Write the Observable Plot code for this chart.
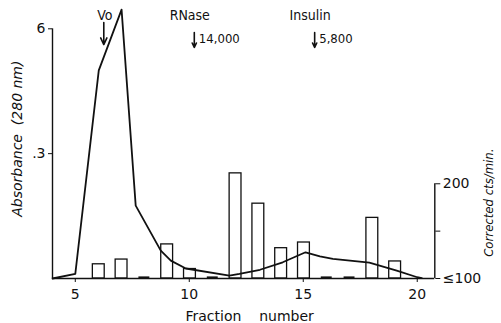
<!DOCTYPE html>
<html>
<head>
<meta charset="utf-8">
<script src="https://cdn.jsdelivr.net/npm/d3@7"></script>
<script src="https://cdn.jsdelivr.net/npm/@observablehq/plot@0.6"></script>
<style>
  html, body { margin: 0; padding: 0; background: #fff; }
  svg { overflow: visible; }
</style>
</head>
<body>
<div id="chart"></div>
<script>
// Absorbance (280 nm) profile
const lineFraction = [4, 5, 6.03, 7.03, 7.65, 8.75, 9.19, 9.85, 11.76, 12.2, 13.1, 14.1, 15.1, 15.73, 16.3, 17.05, 17.9, 19.1, 20.0, 20.2];
const lineAbs      = [0, 0.011, 0.50, 0.646, 0.175, 0.067, 0.043, 0.024, 0.007, 0.011, 0.021, 0.039, 0.063, 0.053, 0.047, 0.043, 0.038, 0.019, 0.003, 0.001];

// Corrected cts/min (bars), <=100 drawn as baseline dashes
const barFraction = [6, 7, 8, 9, 10, 11, 12, 13, 14, 15, 16, 17, 18, 19];
const barCounts   = [115, 120, 100, 136, 110, 100, 211, 179, 132, 138, 100, 100, 164, 118];

// Marker annotations
const markerName = ["Vo", "RNase", "Insulin"];
const markerMW   = ["", "14,000", "5,800"];
const markerFraction = [6.25, 10.22, 15.5];

const xTicks = [5, 10, 15, 20];
const leftTicks = [0.3, 0.6];
const leftTickLabels = [".3", "6"];
const rightTicks = [100, 150, 200];
const rightTickLabels = ["≤100", "", "200"];

const xMin = 4, xMax = 20.77;
// map counts onto the absorbance axis (100 at baseline, 200 at ~0.2276)
const countToY = c => (c - 100) * 0.002276;

const lineData = lineFraction.map((f, i) => ({f, a: lineAbs[i]}));
const bars = barFraction.map((f, i) => ({f, c: barCounts[i]}));
const markers = markerName.map((n, i) => ({name: n, mw: markerMW[i], f: markerFraction[i]}));

const font = "'DejaVu Sans', sans-serif";
const narrow = "'Liberation Sans Narrow', 'DejaVu Sans Condensed', sans-serif";

const chart = Plot.plot({
  width: 501,
  height: 323,
  marginLeft: 52,
  marginRight: 66.7,
  marginTop: 28.3,
  marginBottom: 45,
  style: {fontFamily: font, fontSize: "14px", color: "#111", background: "#fff"},
  x: {domain: [xMin, xMax]},
  y: {domain: [0, 0.6]},
  marks: [
    // bars
    Plot.rectY(bars.filter(d => d.c > 100), {
      x1: d => d.f + 0.03 - 0.26, x2: d => d.f + 0.03 + 0.26,
      y1: 0, y2: d => countToY(d.c),
      fill: "white", stroke: "#111", strokeWidth: 1.3
    }),
    Plot.ruleY(bars.filter(d => d.c <= 100), {
      x1: d => d.f + 0.03 - 0.24, x2: d => d.f + 0.03 + 0.24,
      y: 0, dy: -1, stroke: "#111", strokeWidth: 2.2
    }),
    // axis lines
    Plot.ruleY([0], {x1: xMin, x2: xMax, stroke: "#111", strokeWidth: 1.4}),
    Plot.ruleX([xMin], {y1: 0, y2: 0.6, stroke: "#111", strokeWidth: 1.4}),
    Plot.ruleX([xMax], {y1: 0, y2: countToY(200), stroke: "#111", strokeWidth: 1.4}),
    // absorbance line
    Plot.line(lineData, {x: "f", y: "a", stroke: "#111", strokeWidth: 1.8, strokeLinejoin: "round"}),
    // axes
    Plot.axisX({ticks: xTicks, tickSize: 4, tickPadding: 7, label: null, fontSize: 14}),
    Plot.axisY({ticks: leftTicks, tickSize: 4, tickPadding: 3, label: null, fontSize: 14,
      tickFormat: d => leftTickLabels[leftTicks.indexOf(d)]}),
    Plot.axisY(rightTicks.map(countToY), {anchor: "right", tickSize: 5, tickPadding: 3, label: null, fontSize: 14,
      tickFormat: (d, i) => rightTickLabels[i]}),
    // axis titles
    Plot.text(["Fraction    number"], {frameAnchor: "bottom", textAnchor: "middle", lineAnchor: "bottom", dx: 6, dy: 42, fontSize: 14, fontFamily: font, letterSpacing: "1.8px"}),
    Plot.text(["Absorbance  (280 nm)"], {frameAnchor: "left", textAnchor: "middle", lineAnchor: "middle", rotate: -90, dx: -35, dy: -15, fontSize: 14, fontStyle: "italic", fontFamily: font, letterSpacing: "1px"}),
    Plot.text(["Corrected cts/min."], {frameAnchor: "right", textAnchor: "middle", lineAnchor: "middle", rotate: -90, dx: 54, dy: 49, fontSize: 13, fontStyle: "italic", fontFamily: narrow, letterSpacing: "0.3px"}),
    // marker arrows and labels
    Plot.arrow(markers, {x1: "f", x2: "f", y1: d => d.name === "Vo" ? 0.615 : 0.591, y2: d => d.name === "Vo" ? 0.562 : 0.555,
      stroke: "#111", strokeWidth: 1.6, headLength: 7, headAngle: 50}),
    Plot.text(markers, {x: d => d.name === "Vo" ? d.f + 0.05 : d.f - 0.2, y: 0.633, text: "name", fontSize: 14, fontFamily: narrow}),
    Plot.text(markers.filter(d => d.mw), {x: d => d.f + 0.2, y: 0.576, text: "mw", textAnchor: "start", fontSize: 13, fontFamily: narrow})
  ]
});
document.getElementById("chart").appendChild(chart);
</script>
</body>
</html>
